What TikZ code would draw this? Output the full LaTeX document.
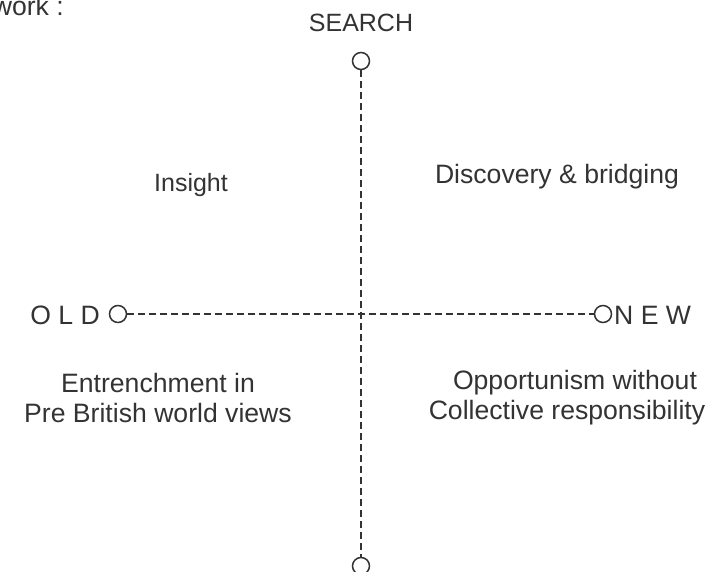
\documentclass[tikz,border=0pt]{standalone}
\usepackage{fontspec}
\setmainfont{Liberation Sans}
\definecolor{ink}{HTML}{333333}
\begin{document}
\begin{tikzpicture}[x=1pt,y=-1pt,
  lbl/.style={text=ink,font=\fontsize{25}{30}\selectfont,inner sep=0pt,align=center},
  big/.style={lbl,font=\fontsize{26.6}{30}\selectfont},
  port/.style={circle,draw=ink,line width=1.5pt,minimum size=17pt,inner sep=0pt},
  axis/.style={draw=ink,line width=1.4pt,dash pattern=on 7pt off 4pt}]
\useasboundingbox (0,0) rectangle (715,571);
\node[big,anchor=base east] (work) at (64,15) {work :};
\node[lbl] (search) at (361,23) {SEARCH};
\node[port] (top) at (361,61) {};
\node[port] (bot) at (361,566) {};
\node[port] (left) at (118,314) {};
\node[port] (right) at (603,314) {};
\node[big,anchor=east] (old) at (100,315) {O L D};
\node[big,anchor=west] (new) at (614,315) {N E W};
\draw[axis] (top) -- (bot);
\draw[axis] (left) -- (right);
\node[lbl] (q1) at (191,185) {Insight};
\node[big] (q2) at (557,177) {Discovery \& bridging};
\node[big] (q3) at (158,398) {Entrenchment in\hspace{0.9em}\\Pre British world views};
\node[big] (q4) at (567,398) {\hspace{0.6em}Opportunism without\\Collective responsibility};
\end{tikzpicture}
\end{document}
